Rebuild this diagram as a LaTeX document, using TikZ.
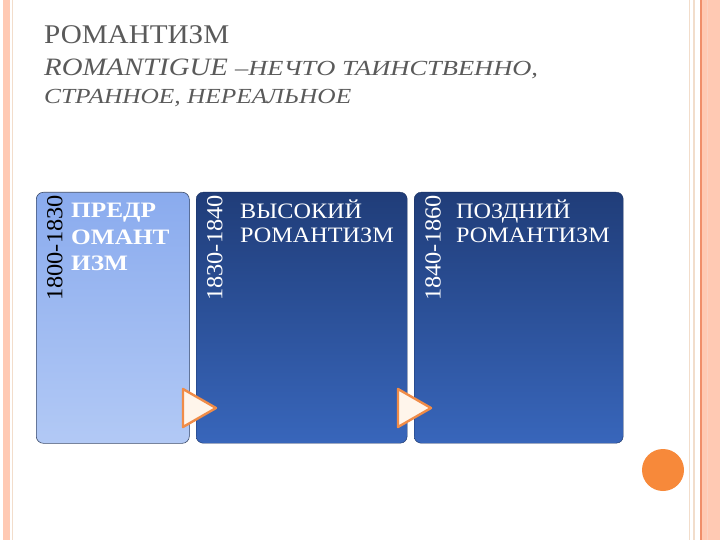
\documentclass[tikz,border=0pt]{standalone}
\usepackage{fontspec}
\setmainfont{Liberation Serif}
\usepackage{xcolor}
\usetikzlibrary{positioning}
\definecolor{salmon}{HTML}{FFC9B3}
\definecolor{edgeline}{HTML}{F2DDCB}
\definecolor{orangeline}{HTML}{F08E6A}
\definecolor{titlegray}{HTML}{5A5A5A}
\definecolor{paleblue}{HTML}{8AABEE}
\definecolor{paleblue2}{HTML}{B2C9F5}
\definecolor{deepblue}{HTML}{203D79}
\definecolor{deepblue2}{HTML}{3866BB}
\definecolor{markorange}{HTML}{F08C48}
\definecolor{dotorange}{HTML}{F7893A}

\tikzset{
  panel/.style={rounded corners=7pt, inner sep=0pt, anchor=north west,
    minimum height=251pt},
  lightpanel/.style={panel, draw=paleblue!45!black, line width=0.6pt,
    top color=paleblue, bottom color=paleblue2},
  darkpanel/.style={panel, draw=deepblue!80!black, line width=0.4pt,
    top color=deepblue, bottom color=deepblue2},
  yearlabel/.style={rotate=90, anchor=north east, inner sep=0pt,
    font=\fontsize{23}{23}\selectfont\addfontfeature{FakeStretch=1.06}},
  paneltext/.style={anchor=north west, inner sep=0pt, align=left, text=white},
  titletext/.style={anchor=base west, inner sep=0pt, text=titlegray},
  arrowmark/.style={draw=markorange, line width=2.4pt, line join=round,
    fill=orange!8}
}

\begin{document}
\begin{tikzpicture}[x=1pt,y=-1pt]
\useasboundingbox (0,0) rectangle (720,540);
\fill [white] (0,0) rectangle (720,540);
% page edges
\fill [salmon] (3,0) rectangle (10,540);
\draw [edgeline, line width=0.8pt] (12.5,0) -- (12.5,540);
\draw [edgeline, line width=0.8pt] (689,0) -- (689,540);
\draw [edgeline, line width=1.2pt] (694,0) -- (694,540);
\fill [salmon] (701,0) rectangle (720,540);
\draw [orangeline, line width=1.2pt] (701,0) -- (701,540);
\draw [orangeline!40, line width=0.6pt] (707,0) -- (707,540);

% title
\node [titletext, font=\fontsize{27}{27}\selectfont\addfontfeature{FakeStretch=1.08}]
  (title) at (44,44) {РОМАНТИЗМ};
\node [titletext, font=\fontsize{25}{25}\selectfont\itshape\addfontfeature{FakeStretch=1.15}]
  (sub1) at (44,76)
  {ROMANTIGUE {\fontsize{21.5}{21.5}\selectfont\addfontfeature{FakeStretch=1.23}–НЕЧТО ТАИНСТВЕННО,}};
\node [titletext, font=\fontsize{21.5}{21.5}\selectfont\itshape\addfontfeature{FakeStretch=1.18}]
  (sub2) at (44,104) {СТРАННОЕ, НЕРЕАЛЬНОЕ};

% panels
\node [lightpanel, minimum width=153pt] (early) at (36,192) {};
\node [darkpanel, minimum width=211pt] (high) at (196,192) {};
\node [darkpanel, minimum width=209pt] (late) at (414,192) {};

\node [yearlabel] (y1) at (47,195) {1800-1830};
\node [yearlabel, text=white] (y2) at (207,195) {1830-1840};
\node [yearlabel, text=white] (y3) at (425,195) {1840-1860};

\node [paneltext, font=\fontsize{22}{26.5}\selectfont\bfseries\addfontfeature{FakeStretch=1.15}]
  (t1) at (71,203) {ПРЕДР\\ОМАНТ\\ИЗМ};
\node [paneltext, font=\fontsize{22}{24}\selectfont\addfontfeature{FakeStretch=1.1}]
  (t2) at (240,200) {ВЫСОКИЙ\\РОМАНТИЗМ};
\node [paneltext, font=\fontsize{22}{24}\selectfont\addfontfeature{FakeStretch=1.1}]
  (t3) at (456,200) {ПОЗДНИЙ\\РОМАНТИЗМ};

% arrow marks
\draw [arrowmark] (183,389) -- (216,408) -- (183,427) -- cycle;
\draw [arrowmark] (398,389) -- (431,408) -- (398,427) -- cycle;

\fill [dotorange] (663,470) circle (21);
\end{tikzpicture}
\end{document}
